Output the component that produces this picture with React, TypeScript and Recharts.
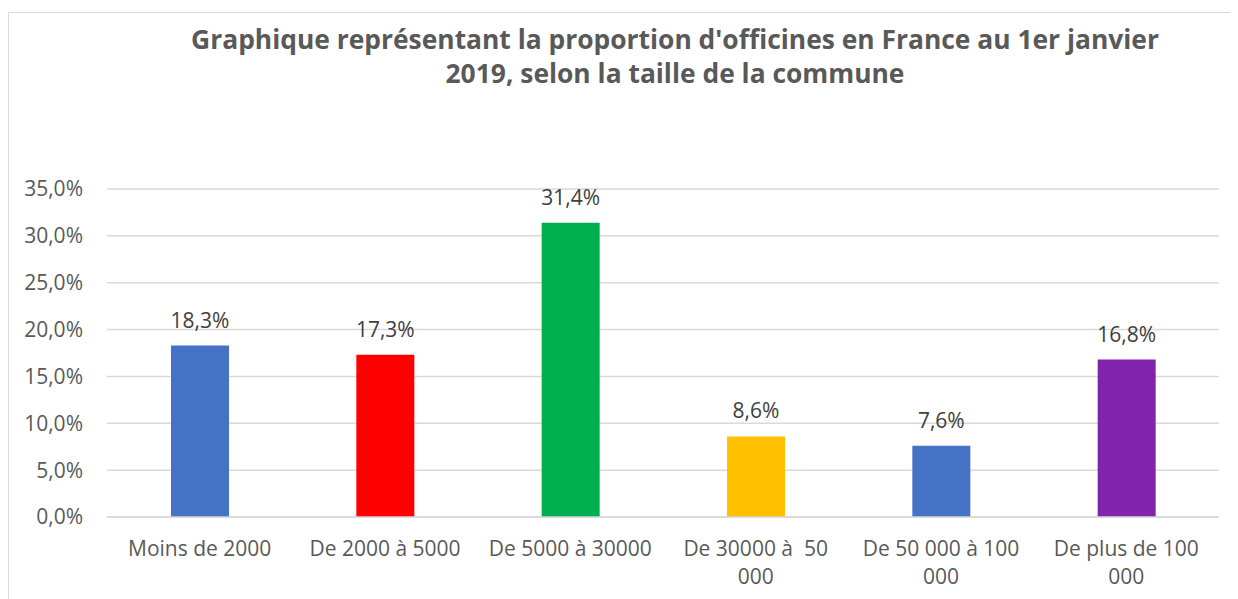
import React from "react";
import { BarChart, Bar, XAxis, YAxis, CartesianGrid, Cell, LabelList } from "recharts";

const categories = [
  "Moins de 2000",
  "De 2000 à 5000",
  "De 5000 à 30000",
  "De 30000 à  50 000",
  "De 50 000 à 100 000",
  "De plus de 100 000",
];
const tickLabelLines = [
  ["Moins de 2000"],
  ["De 2000 à 5000"],
  ["De 5000 à 30000"],
  ["De 30000 à  50", "000"],
  ["De 50 000 à 100", "000"],
  ["De plus de 100", "000"],
];
const values = [18.3, 17.3, 31.4, 8.6, 7.6, 16.8];
const barColors = ["#4472C4", "#FF0000", "#00B050", "#FFC000", "#4472C4", "#7F24AB"];
const yTicks = [0, 5, 10, 15, 20, 25, 30, 35];
const titleLines = [
  "Graphique représentant la proportion d'officines en France au 1er janvier",
  "2019, selon la taille de la commune",
];

const data = categories.map((c, i) => ({ name: c, value: values[i] }));

const fmt = (v: number) => v.toFixed(1).replace(".", ",") + "%";

const FONT = "'Open Sans', sans-serif";

const XTick = (props: any) => {
  const { x, y, index } = props;
  const lines = tickLabelLines[index] || [];
  return (
    <text
      x={x}
      y={y}
      textAnchor="middle"
      fill="#595959"
      fontSize={21}
      fontFamily={FONT}
      style={{ whiteSpace: "pre" }}
    >
      {lines.map((l, i) => (
        <tspan key={i} x={x} y={y + 39 + i * 28}>
          {l}
        </tspan>
      ))}
    </text>
  );
};

export default function App() {
  return (
    <div style={{ position: "relative", width: 1230, height: 591, overflow: "hidden", background: "#fff" }}>
      <style>{"body{overflow:hidden}"}</style>
      <div
        style={{
          position: "absolute",
          left: 0,
          top: 4,
          width: 1400,
          height: 800,
          border: "1px solid #D9D9D9",
          boxSizing: "border-box",
        }}
      />
      <svg width={1230} height={120} style={{ position: "absolute", left: 0, top: 0 }}>
        {titleLines.map((t, i) => (
          <text
            key={i}
            x={667}
            y={41 + i * 34}
            textAnchor="middle"
            fill="#595959"
            fontSize={26.4}
            fontWeight={700}
            fontFamily={FONT}
          >
            {t}
          </text>
        ))}
      </svg>
      <div style={{ position: "absolute", left: 0, top: 0 }}>
        <BarChart
          width={1230}
          height={591}
          data={data}
          margin={{ top: 181, right: 19, left: 0, bottom: 22 }}
          barCategoryGap="34%"
        >
          <CartesianGrid vertical={false} stroke="#D9D9D9" strokeWidth={1.5} />
          <XAxis
            dataKey="name"
            height={60}
            axisLine={{ stroke: "#D9D9D9", strokeWidth: 1.5 }}
            tickLine={false}
            tickSize={0}
            tickMargin={0}
            interval={0}
            tick={<XTick />}
          />
          <YAxis
            width={99}
            domain={[0, 35]}
            ticks={yTicks}
            axisLine={false}
            tickLine={false}
            tickSize={0}
            tickMargin={24}
            tickFormatter={fmt}
            tick={{ fill: "#595959", fontSize: 21, fontFamily: FONT }}
          />
          <Bar dataKey="value" barSize={58} isAnimationActive={false}>
            {data.map((d, i) => (
              <Cell key={i} fill={barColors[i]} />
            ))}
            <LabelList
              dataKey="value"
              position="top"
              offset={18}
              formatter={(v: any) => fmt(Number(v))}
              fill="#404040"
              fontSize={21}
              fontFamily={FONT}
            />
          </Bar>
        </BarChart>
      </div>
    </div>
  );
}
